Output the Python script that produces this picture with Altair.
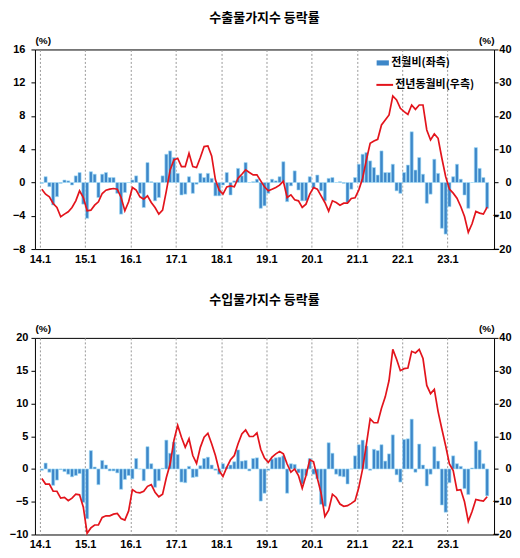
import altair as alt
import pandas as pd

# ---- data (monthly, 2014.1 .. 2023.11) ----
year_labels = ["14.1", "15.1", "16.1", "17.1", "18.1", "19.1", "20.1", "21.1", "22.1", "23.1"]

export_mom = [
    -0.1, 0.7, -0.5, -2.7, -1.7, -0.1, 0.3, 0.2, -0.3, 0.8, 1.2, -2.6,
    -4.3, 1.3, 1.0, -1.8, 1.0, 1.2, 0.6, 0.6, -1.3, -3.8, -1.2, 0.0,
    0.3, 0.8, -1.3, -3.0, 2.4, 0.1, -2.2, -1.8, 0.8, 3.4, 3.8, 3.0,
    1.1, -1.5, -1.4, 0.7, -1.3, -0.2, 1.1, 0.6, 1.1, 0.5, -1.6, -1.6,
    -0.3, 1.2, -1.5, 0.2, 1.7, 0.8, 2.4, 0.0, 0.1, 0.4, -3.1, -2.8,
    -1.3, 0.4, 0.2, 0.7, 2.5, -2.3, -0.4, 1.4, -0.9, -2.2, -2.2, 0.7,
    -0.7, 0.9, -1.0, -2.2, 0.5, 0.6, 0.0, 0.1, -0.1, -2.4, -0.8, 0.6,
    2.2, 3.4, 3.6, 2.6, 1.8, 0.9, 3.8, 1.2, 1.2, 2.2, -1.0, -1.3,
    1.2, 2.1, 6.1, 1.5, 3.0, 1.0, -2.5, -1.4, 2.8, 1.1, -5.5, -6.2,
    -2.9, 0.7, 2.2, 0.4, -1.5, -3.1, 0.0, 4.2, 1.7, 0.6, -3.1,
]
export_yoy = [
    -2.0, -3.5, -4.3, -6.3, -7.5, -10.3, -9.5, -8.8, -7.5, -5.5, -2.5, -4.5,
    -8.5, -8.3, -6.8, -5.8, -3.3, -2.3, -2.0, -1.8, -2.0, -4.5, -8.5, -5.8,
    -1.5, -2.3, -4.3, -5.0, -4.0, -6.0, -7.5, -9.5, -8.3, -2.5, 3.8, 6.8,
    7.3, 4.8, 4.8, 8.8, 4.8, 4.5, 7.5, 10.8, 11.0, 8.0, 0.8, -2.3,
    -3.5, -1.3, -1.0, -1.3, 1.3, 2.5, 3.8, 3.0, 2.3, 2.3, 0.5, -1.3,
    -2.5, -2.0, -1.5, -0.8, 0.4, -4.5, -3.7, -5.2, -5.5, -7.5, -6.5, -3.5,
    -1.5, -2.0, -4.0, -6.0, -8.6, -5.5, -6.0, -6.8, -6.2, -6.2, -4.8, -4.6,
    -2.2, 1.3, 6.8, 11.8, 12.5, 13.0, 17.3, 18.8, 20.3, 26.0, 24.8, 22.3,
    21.3, 20.5, 23.3, 22.0, 23.3, 23.3, 15.8, 12.8, 14.6, 13.3, 7.3, 1.8,
    -2.0, -3.2, -4.7, -7.2, -10.2, -15.0, -12.4, -8.7, -9.2, -9.5, -7.4,
]
import_mom = [
    -0.2, 0.9, -0.5, -2.5, -1.7, -0.1, -0.4, -0.8, -1.2, -1.0, -0.7, -5.1,
    -7.6, 2.8, 0.3, -2.4, 1.3, 0.6, -0.3, -0.3, -0.6, -3.1, -1.6, -1.0,
    -1.5, 1.6, 0.0, -1.8, 3.4, 0.8, -2.8, -1.8, 0.1, 4.4, 2.4, 4.1,
    2.2, -2.0, -2.1, 0.4, -1.3, -1.2, 0.5, 1.6, 1.8, 0.6, -0.2, -0.8,
    0.8, 0.3, 0.6, 1.1, 2.9, 1.2, 1.3, -0.3, 1.6, 1.7, -4.9, -3.7,
    -0.2, 1.5, 1.7, 1.8, 2.0, -3.7, 0.8, 0.7, -0.6, -2.3, -1.0, 1.6,
    -0.8, -1.5, -5.4, -5.7, 4.0, 2.4, -0.8, -1.1, -1.2, -2.3, 0.0, 2.0,
    3.7, 4.4, 3.5, -0.2, 3.0, 2.8, 3.7, 1.2, 2.3, 5.2, -0.9, -2.0,
    4.5, 4.6, 7.6, -0.5, 3.8, 0.6, -2.6, -0.8, 3.4, 1.2, -5.5, -6.6,
    -2.1, 2.0, 0.8, 0.4, -3.0, -3.9, 0.15, 4.2, 2.9, 0.8, -4.1,
]
import_yoy = [
    -2.9, -4.6, -4.6, -6.8, -6.8, -8.9, -8.7, -9.7, -8.9, -7.7, -7.9, -11.7,
    -19.6, -18.0, -17.1, -17.1, -14.8, -14.3, -14.3, -13.8, -13.6, -15.1, -15.6, -12.8,
    -6.3, -7.1, -7.3, -6.8, -5.3, -4.8, -7.1, -8.5, -7.7, -2.6, 1.5, 8.7,
    13.3, 9.7, 6.6, 9.2, 4.1, 1.7, 6.6, 9.7, 10.9, 7.7, 4.1, -0.5,
    -2.3, 0.5, 2.8, 4.1, 7.7, 10.7, 11.9, 9.9, 9.9, 11.0, 6.0, 3.3,
    2.0, 3.6, 4.6, 5.3, 4.6, 1.5, -1.0, 0.0, -2.0, -5.9, -2.0, 2.8,
    2.2, -2.8, -7.4, -14.5, -12.6, -7.7, -8.7, -10.7, -11.4, -11.2, -10.5, -9.7,
    -5.6, 0.0, 7.5, 15.3, 14.1, 14.1, 18.5, 22.0, 27.0, 36.5, 33.5, 30.0,
    30.6, 30.8, 35.9, 35.4, 36.5, 33.7, 25.5, 23.0, 24.3, 17.5, 12.2, 7.1,
    1.5, -0.5, -6.5, -6.3, -10.0, -16.0, -13.0, -9.3, -9.6, -9.8, -8.5,
]

series_names = ["전월비(좌측)", "전년동월비(우측)"]
titles = ["수출물가지수 등락률", "수입물가지수 등락률"]

BAR_FILL = "#3d87c9"
BAR_EDGE = "#9fdcf6"
LINE_RED = "#e3141c"
NUM_FONT = "Liberation Sans"
KR_FONT = "Noto Sans CJK KR"

label_expr = "[" + ",".join("'%s'" % s for s in year_labels) + "][round(datum.value/12)]"


def panel(title, mom, yoy, ldom, lvals, width, height, legx, legy, lpad, toff):
    n = len(mom)
    df = pd.DataFrame({
        "xc": [i + 0.5 for i in range(n)],
        "mom": mom,
        "yoy": yoy,
        "s1": series_names[0],
        "s2": series_names[1],
    })
    base = alt.Chart(df)
    xscale = alt.Scale(domain=[0, 119], nice=False, zero=False)
    xaxis = alt.Axis(
        values=list(range(0, 109, 12)), labelExpr=label_expr, title=None,
        grid=True, gridDash=[2, 2], gridColor="#9a9a9a", gridWidth=1,
        ticks=False, domain=False, labelFont=NUM_FONT, labelFontSize=11,
        labelFontWeight="bold", labelColor="black", labelPadding=4,
    )
    bars = base.mark_bar(orient="vertical", size=3.1, stroke=BAR_EDGE, strokeWidth=0.6).encode(
        x=alt.X("xc:Q", scale=xscale, axis=xaxis),
        y=alt.Y("mom:Q", stack=None, scale=alt.Scale(domain=ldom, nice=False, zero=False),
                axis=alt.Axis(orient="left", values=lvals, title="(%)", titleAngle=0,
                              titleAlign="left", titleBaseline="bottom", titleX=0, titleY=-4,
                              titleFont=NUM_FONT, titleFontSize=10, titleFontWeight="bold",
                              titleColor="black", grid=False, domain=False, tickSize=4,
                              tickColor="black", labelFont=NUM_FONT, labelFontSize=11,
                              labelFontWeight="bold", labelColor="black", labelPadding=lpad)),
        fill=alt.Fill("s1:N", scale=alt.Scale(domain=[series_names[0]], range=[BAR_FILL]),
                      legend=alt.Legend(orient="none", legendX=legx, legendY=legy, title=None,
                                        symbolType="M-1,-0.42H1V0.42H-1Z", symbolSize=150,
                                        symbolStrokeWidth=0, labelFont=KR_FONT, labelFontSize=11,
                                        labelFontWeight="bold", labelColor="black", labelOffset=2,
                                        padding=0)),
    )
    line = base.mark_line(strokeWidth=1.7).encode(
        x=alt.X("xc:Q", scale=xscale, axis=xaxis),
        y=alt.Y("yoy:Q", scale=alt.Scale(domain=[-20, 40], nice=False, zero=False),
                axis=alt.Axis(orient="right", values=[-20, -10, 0, 10, 20, 30, 40], title="(%)",
                              titleAngle=0, titleAlign="right", titleBaseline="bottom",
                              titleX=0, titleY=-4, titleFont=NUM_FONT, titleFontSize=10,
                              titleFontWeight="bold", titleColor="black", grid=False,
                              domain=False, tickSize=4, tickColor="black", labelAlign="right",
                              labelPadding=13, labelFont=NUM_FONT, labelFontSize=11,
                              labelFontWeight="bold", labelColor="black")),
        stroke=alt.Stroke("s2:N", scale=alt.Scale(domain=[series_names[1]], range=[LINE_RED]),
                          legend=alt.Legend(orient="none", legendX=legx - 1, legendY=legy + 19,
                                            title=None, symbolType="stroke", symbolSize=280,
                                            symbolStrokeWidth=2, labelFont=KR_FONT,
                                            labelFontSize=11, labelFontWeight="bold",
                                            labelColor="black", labelOffset=1, padding=0)),
    )
    return alt.layer(bars, line).resolve_scale(y="independent").properties(
        width=width, height=height,
        title=alt.TitleParams(title, font=KR_FONT, fontSize=13, fontWeight="bold",
                              color="black", frame="group", anchor="middle", offset=toff,
                              baseline="bottom"),
    )


top = panel(titles[0], export_mom, export_yoy, [-8, 16], [-8, -4, 0, 4, 8, 12, 16],
            460, 200, 342, 7, 6, -2)
bottom = panel(titles[1], import_mom, import_yoy, [-10, 20], [-10, -5, 0, 5, 10, 15, 20],
               460, 197, 267, 6, 3, 4)

chart = alt.vconcat(top, bottom, spacing=28).properties(
    padding={"left": 0, "top": 2, "right": 0, "bottom": 0}
).configure(background="white").configure_view(stroke="black", strokeWidth=1)

chart.save("out.html", embed_options={"renderer": "svg", "actions": False})
